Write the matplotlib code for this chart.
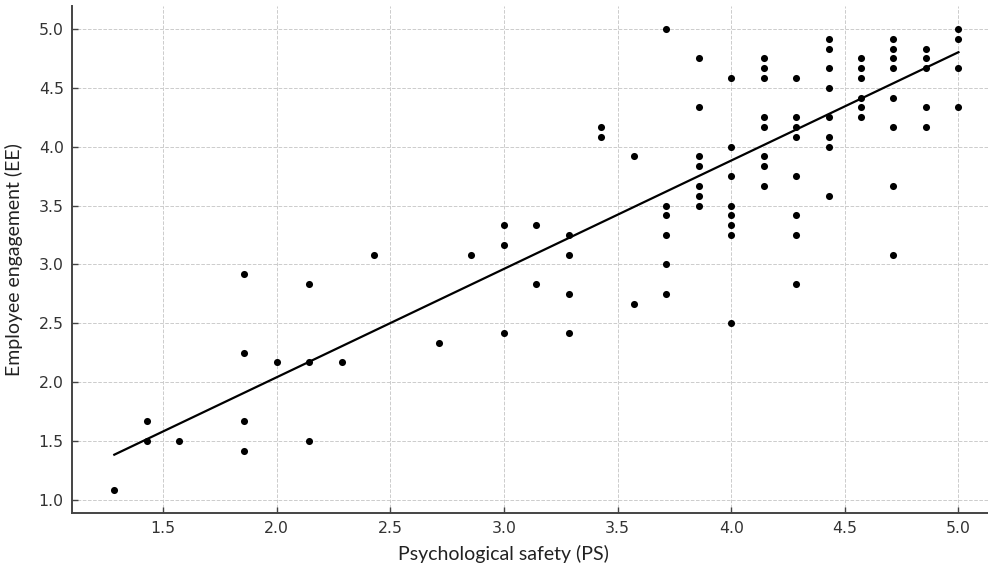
import numpy as np
import matplotlib
matplotlib.use("Agg")
import matplotlib.pyplot as plt

# psychological safety (x) and employee engagement (y), one line per PS level
ps = [1.286,
      1.429, 1.429,
      1.571,
      1.857, 1.857, 1.857, 1.857,
      2.000,
      2.143, 2.143, 2.143,
      2.286,
      2.429,
      2.714,
      2.857,
      3.000, 3.000, 3.000,
      3.143, 3.143,
      3.286, 3.286, 3.286, 3.286,
      3.429, 3.429,
      3.571, 3.571,
      3.714, 3.714, 3.714, 3.714, 3.714, 3.714,
      3.857, 3.857, 3.857, 3.857, 3.857, 3.857, 3.857,
      4.000, 4.000, 4.000, 4.000, 4.000, 4.000, 4.000, 4.000,
      4.143, 4.143, 4.143, 4.143, 4.143, 4.143, 4.143, 4.143,
      4.286, 4.286, 4.286, 4.286, 4.286, 4.286, 4.286, 4.286,
      4.429, 4.429, 4.429, 4.429, 4.429, 4.429, 4.429, 4.429,
      4.571, 4.571, 4.571, 4.571, 4.571, 4.571,
      4.714, 4.714, 4.714, 4.714, 4.714, 4.714, 4.714, 4.714,
      4.857, 4.857, 4.857, 4.857, 4.857,
      5.000, 5.000, 5.000, 5.000]
ee = [1.083,
      1.667, 1.500,
      1.500,
      2.917, 2.250, 1.667, 1.417,
      2.167,
      2.833, 2.167, 1.500,
      2.167,
      3.083,
      2.333,
      3.083,
      3.333, 3.167, 2.417,
      3.333, 2.833,
      3.250, 3.083, 2.750, 2.417,
      4.167, 4.083,
      3.917, 2.667,
      5.000, 3.500, 3.417, 3.250, 3.000, 2.750,
      4.750, 4.333, 3.917, 3.833, 3.667, 3.583, 3.500,
      4.583, 4.000, 3.750, 3.500, 3.417, 3.333, 3.250, 2.500,
      4.750, 4.667, 4.583, 4.250, 4.167, 3.917, 3.833, 3.667,
      4.583, 4.250, 4.167, 4.083, 3.750, 3.417, 3.250, 2.833,
      4.917, 4.833, 4.667, 4.500, 4.250, 4.083, 4.000, 3.583,
      4.750, 4.667, 4.583, 4.417, 4.333, 4.250,
      4.917, 4.833, 4.750, 4.667, 4.417, 4.167, 3.667, 3.083,
      4.833, 4.750, 4.667, 4.333, 4.167,
      5.000, 4.917, 4.667, 4.333]

# regression line as shown in the figure (fit on the full sample, overlaps hidden)
fit_slope = 0.921
fit_intercept = 0.198

x = np.array(ps)
y = np.array(ee)
xl = np.array([x.min(), x.max()])

fig = plt.figure(figsize=(9.88, 5.71), dpi=100)
# axes runs a bit past the right edge, as in the cropped original
ax = fig.add_axes([0.0729, 0.1016, 0.940, 0.888])

ax.scatter(x, y, s=26, color='black', zorder=3, linewidths=0)
ax.plot(xl, fit_intercept + fit_slope * xl, color='black', lw=1.6, zorder=4)

ax.set_xlim(1.1, 5.186)
ax.set_ylim(0.887, 5.196)
ax.set_xticks([1.5, 2.0, 2.5, 3.0, 3.5, 4.0, 4.5, 5.0])
ax.set_yticks([1.0, 1.5, 2.0, 2.5, 3.0, 3.5, 4.0, 4.5, 5.0])

ax.grid(True, ls='--', lw=0.7, color='#cccccc')
ax.set_axisbelow(True)
for s in ['top', 'right']:
    ax.spines[s].set_visible(False)
for s in ['left', 'bottom']:
    ax.spines[s].set_color('#444444')
    ax.spines[s].set_linewidth(1.4)
ax.tick_params(direction='in', length=4, width=1, color='#444444',
               labelsize=11.3, labelcolor='#333333', pad=6)

ax.set_xlabel('Psychological safety (PS)', fontsize=14, family='Lato',
              color='#222222')
ax.xaxis.set_label_coords(0.464, -0.063)
ax.set_ylabel('Employee engagement (EE)', fontsize=14, family='Lato',
              color='#222222')
ax.yaxis.set_label_coords(-0.053, 0.5)

fig.savefig('out.png', dpi=100)
